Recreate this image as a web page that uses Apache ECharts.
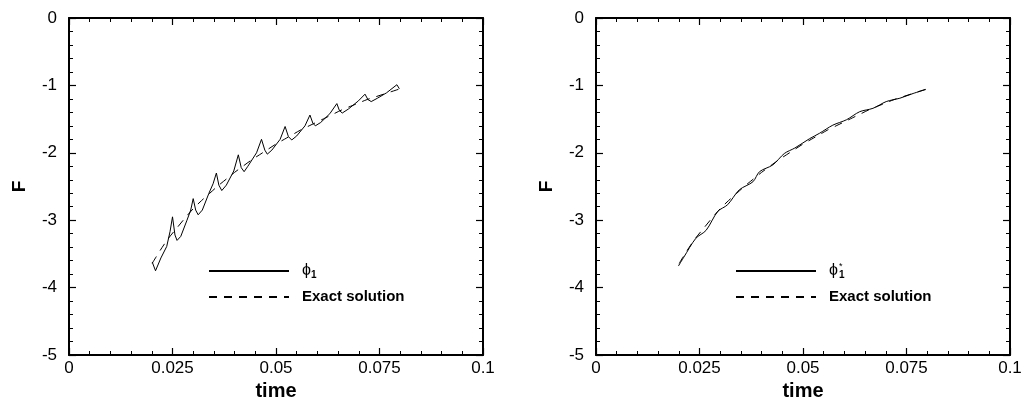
<!DOCTYPE html>
<html>
<head>
<meta charset="utf-8">
<script src="https://cdn.jsdelivr.net/npm/echarts@6/dist/echarts.min.js"></script>
<style>html,body{margin:0;padding:0;background:#fff}#c{width:1023px;height:399px}</style>
</head>
<body>
<div id="c"></div>
<script>
// ---- data ----
const xTickLabels = ['0', '0.025', '0.05', '0.075', '0.1'];
const yTickLabels = ['-5', '-4', '-3', '-2', '-1', '0'];

// exact solution (time, F)
const exactT = [0.0201,0.022,0.024,0.026,0.028,0.030,0.032,0.034,0.036,0.038,0.040,0.042,0.044,0.046,0.048,0.050,0.052,0.054,0.056,0.058,0.060,0.062,0.064,0.066,0.068,0.070,0.072,0.074,0.076,0.078,0.080];
const exactF = [-3.64,-3.45,-3.27,-3.12,-2.97,-2.83,-2.71,-2.60,-2.49,-2.39,-2.29,-2.20,-2.11,-2.03,-1.95,-1.87,-1.80,-1.73,-1.66,-1.60,-1.54,-1.48,-1.42,-1.36,-1.31,-1.26,-1.21,-1.17,-1.13,-1.09,-1.05];

// phi_1 (left panel)
const phi1T = [0.0201,0.0209,0.0222,0.0236,0.0244,0.0250,0.0256,0.0261,0.0270,0.0285,0.0294,0.0300,0.0306,0.0312,0.0322,0.0338,0.0348,0.0356,0.0362,0.0369,0.0380,0.0398,0.0409,0.0416,0.0423,0.0432,0.0453,0.0465,0.0473,0.0479,0.0490,0.0510,0.0522,0.0530,0.0538,0.0550,0.0570,0.0582,0.0589,0.0595,0.0608,0.0630,0.0647,0.0653,0.0660,0.0675,0.0699,0.0715,0.0722,0.0730,0.0745,0.0767,0.0792,0.0798];
const phi1F = [-3.62,-3.75,-3.56,-3.39,-3.17,-2.95,-3.22,-3.30,-3.24,-3.00,-2.85,-2.68,-2.85,-2.92,-2.85,-2.60,-2.46,-2.30,-2.48,-2.56,-2.48,-2.27,-2.03,-2.22,-2.28,-2.20,-2.00,-1.80,-1.96,-2.02,-1.96,-1.80,-1.61,-1.76,-1.81,-1.75,-1.60,-1.44,-1.56,-1.60,-1.55,-1.42,-1.27,-1.37,-1.41,-1.35,-1.23,-1.13,-1.21,-1.24,-1.19,-1.11,-0.99,-1.05];

// phi_1^* (right panel)
const phi1sT = [0.0199,0.0212,0.0241,0.0266,0.0294,0.0318,0.0346,0.0379,0.0395,0.0427,0.0455,0.0480,0.0516,0.0540,0.0572,0.0605,0.0637,0.0669,0.0701,0.0734,0.0766,0.0797];
const phi1sF = [-3.68,-3.55,-3.27,-3.15,-2.87,-2.77,-2.55,-2.43,-2.28,-2.18,-2.01,-1.93,-1.79,-1.71,-1.59,-1.51,-1.39,-1.34,-1.24,-1.19,-1.12,-1.06];

const zip = (a, b) => a.map((v, i) => [v, b[i]]);

// ---- chart ----
const FONT = "'Liberation Sans', Arial, sans-serif";
const chart = echarts.init(document.getElementById('c'), null, {renderer: 'canvas'});

const grids = [
  {left: 69, width: 414, top: 18, bottom: 44, outerBoundsMode: 'none', containLabel: false},
  {left: 596, width: 414, top: 18, bottom: 44, outerBoundsMode: 'none', containLabel: false}
];

const tickStyle = {
  axisTick: {show: true, inside: true, length: 7, lineStyle: {color: '#000', width: 1.2}},
  minorTick: {show: true, splitNumber: 5, length: 4, lineStyle: {color: '#000', width: 1}},
  splitLine: {show: false},
  minorSplitLine: {show: false},
  axisLine: {show: true, onZero: false, lineStyle: {color: '#000', width: 2}}
};

const xAxes = [], yAxes = [];
grids.forEach((g, i) => {
  xAxes.push(Object.assign({
    type: 'value', gridIndex: i, position: 'bottom', min: 0, max: 0.1, interval: 0.025,
    name: 'time', nameLocation: 'middle', nameGap: 24,
    nameTextStyle: {fontFamily: FONT, fontWeight: 'bold', fontSize: 20, color: '#000'},
    axisLabel: {show: true, margin: 5, fontFamily: FONT, fontSize: 17, color: '#000',
      formatter: v => xTickLabels[Math.round(v / 0.025)]}
  }, tickStyle));
  xAxes.push(Object.assign({
    type: 'value', gridIndex: i, position: 'top', min: 0, max: 0.1, interval: 0.025,
    axisLabel: {show: false}
  }, tickStyle));
  yAxes.push(Object.assign({
    type: 'value', gridIndex: i, position: 'left', min: -5, max: 0, interval: 1,
    name: 'F', nameLocation: 'middle', nameGap: 40,
    nameTextStyle: {fontFamily: FONT, fontWeight: 'bold', fontSize: 19, color: '#000'},
    axisLabel: {show: true, margin: 12, fontFamily: FONT, fontSize: 17, color: '#000',
      formatter: v => yTickLabels[Math.round(v + 5)]}
  }, tickStyle));
  yAxes.push(Object.assign({
    type: 'value', gridIndex: i, position: 'right', min: -5, max: 0, interval: 1,
    axisLabel: {show: false}
  }, tickStyle));
});

const lineSolid = {color: '#000', width: 1, type: 'solid'};
const lineDash = {color: '#000', width: 1, type: [8, 7]};

const series = [
  {name: 'phi1', type: 'line', xAxisIndex: 0, yAxisIndex: 0, data: zip(phi1T, phi1F),
    symbol: 'none', lineStyle: lineSolid, itemStyle: {color: '#000'}, animation: false, z: 3},
  {name: 'Exact solution', type: 'line', xAxisIndex: 0, yAxisIndex: 0, data: zip(exactT, exactF),
    symbol: 'none', smooth: 0.3, lineStyle: lineDash, itemStyle: {color: '#000'}, animation: false},
  {name: 'phi1star', type: 'line', xAxisIndex: 2, yAxisIndex: 2, data: zip(phi1sT, phi1sF),
    symbol: 'none', smooth: 0.3, lineStyle: lineSolid, itemStyle: {color: '#000'}, animation: false, z: 3},
  {name: 'Exact solution', type: 'line', xAxisIndex: 2, yAxisIndex: 2, data: zip(exactT, exactF),
    symbol: 'none', smooth: 0.3, lineStyle: lineDash, itemStyle: {color: '#000'}, animation: false}
];

const rich = {
  phi: {fontFamily: FONT, fontSize: 16, color: '#000', padding: [0, 0, 0, 8]},
  sub: {fontFamily: FONT, fontSize: 10, fontWeight: 'bold', color: '#000', verticalAlign: 'bottom', padding: [8, 0, 0, 0]},
  sup: {fontFamily: FONT, fontSize: 9, color: '#000', width: 0, verticalAlign: 'top', padding: [0, 0, 10, 1]},
  b: {fontFamily: FONT, fontSize: 15, fontWeight: 'bold', color: '#000', padding: [0, 0, 0, 8]}
};
const fmt = name => name === 'phi1' ? '{phi|\u03D5}{sub|1}'
  : name === 'phi1star' ? '{phi|\u03D5}{sup|*}{sub|1}'
  : '{b|Exact solution}';

const legendBase = {
  orient: 'vertical', itemWidth: 80, itemHeight: 14, itemGap: 8, selectedMode: false,
  itemStyle: {opacity: 0, color: 'rgba(0,0,0,0)', borderWidth: 0},
  formatter: fmt, textStyle: {rich: rich, lineHeight: 18}, padding: 0
};

chart.setOption({
  backgroundColor: '#fff',
  animation: false,
  grid: grids,
  xAxis: xAxes,
  yAxis: yAxes,
  legend: [
    Object.assign({left: 208, top: 262, data: ['phi1', 'Exact solution']}, legendBase),
    Object.assign({left: 735, top: 262, data: ['phi1star', 'Exact solution']}, legendBase)
  ],
  series: series
});
</script>
</body>
</html>
